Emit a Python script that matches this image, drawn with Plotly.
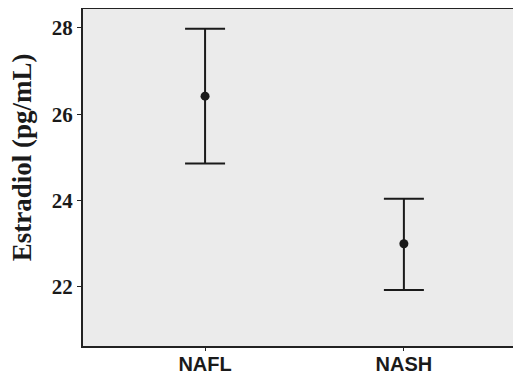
import plotly.graph_objects as go

groups = ["NAFL", "NASH"]
means = [26.42, 23.0]
upper = [27.98, 24.04]
lower = [24.86, 21.93]
y_ticks = [22, 24, 26, 28]
y_title = "Estradiol (pg/mL)"

err_plus = [u - m for u, m in zip(upper, means)]
err_minus = [m - l for m, l in zip(means, lower)]

fig = go.Figure(go.Scatter(
    x=[0, 1], y=means, mode="markers",
    marker=dict(color="#1a1a1a", size=9),
    error_y=dict(type="data", array=err_plus, arrayminus=err_minus,
                 color="#1a1a1a", thickness=2, width=20),
))

# page body has an 8px default margin, so the figure is offset by (8, 8)
fig.update_layout(
    width=513, height=367,
    margin=dict(l=75, r=2, t=1, b=29),
    paper_bgcolor="white", plot_bgcolor="#ebebeb",
    showlegend=False,
)
fig.update_xaxes(
    range=[-0.614, 1.579], tickvals=[0, 1], ticktext=groups,
    showgrid=False, zeroline=False, automargin=False,
    showline=True, linecolor="#222", linewidth=2, mirror=True,
    ticks="outside", ticklen=3, tickcolor="#222", ticklabelstandoff=-4,
    tickfont=dict(family="Liberation Sans, Arial", size=20, color="#1a1a1a", weight="bold"),
)
fig.update_yaxes(
    range=[20.63, 28.44], tickvals=y_ticks,
    showgrid=False, zeroline=False, automargin=False,
    showline=True, linecolor="#222", linewidth=2, mirror=True,
    ticks="outside", ticklen=4, tickcolor="#222",
    tickfont=dict(family="Liberation Serif, Times New Roman", size=21, color="#1a1a1a", weight="bold"),
)
fig.add_annotation(
    text=y_title, textangle=-90, xref="paper", yref="paper",
    x=-0.14, y=0.56, xanchor="center", yanchor="middle", showarrow=False,
    font=dict(family="Liberation Serif, Times New Roman", size=27, color="#1a1a1a", weight="bold"),
)

fig.write_html("out.html")
